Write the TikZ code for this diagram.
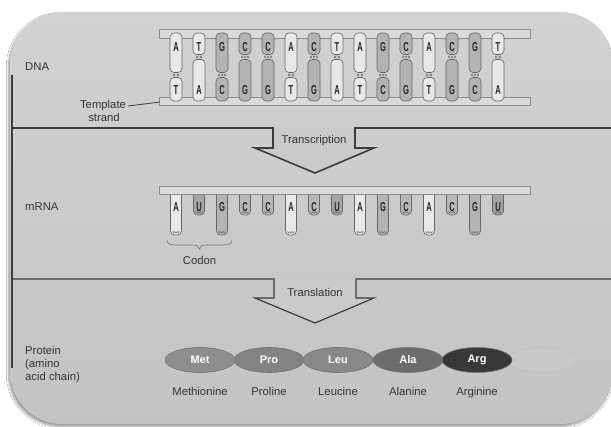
\documentclass[tikz,border=0pt]{standalone}
\usepackage{fontspec}
\setmainfont{Liberation Sans}
\usetikzlibrary{shapes.geometric,shadows.blur,calc}
\definecolor{panel}{HTML}{C3C3C3}
\definecolor{paneltop}{HTML}{D2D2D2}
\definecolor{edge}{HTML}{3C3C3C}
\definecolor{txt}{HTML}{333333}
\definecolor{band}{HTML}{DADADA}
\definecolor{light}{HTML}{E8E8E8}
\definecolor{mid}{HTML}{B3B3B3}
\definecolor{udark}{HTML}{A4A4A4}
\definecolor{cmid}{HTML}{B8B8B8}
\definecolor{met}{HTML}{8E8E8E}
\definecolor{pro}{HTML}{838383}
\definecolor{leu}{HTML}{888888}
\definecolor{ala}{HTML}{6C6C6C}
\definecolor{arg}{HTML}{383838}
\definecolor{faint}{HTML}{C8C8C8}
\definecolor{arrowfill}{HTML}{CACACA}
\begin{document}
\begin{tikzpicture}[x=1pt,y=-1pt,
  lbl/.style={font=\fontsize{11.3}{13}\selectfont, text=txt, inner sep=0pt},
  baseltr/.style={font=\fontsize{13}{13}\selectfont\bfseries, text=black!85, inner sep=0pt},
  pill/.style={draw=black!60, line width=0.6pt, rounded corners=4pt},
  bond/.style={draw=black!60, line width=0.4pt},
  strandband/.style={draw=black!45, line width=0.6pt, fill=band},
  divider/.style={draw=edge, line width=1.6pt, line join=miter},
  aa/.style={ellipse, draw=black!55, line width=0.6pt, minimum width=70pt, minimum height=25pt, inner sep=0pt, text=white, font=\fontsize{11}{12}\selectfont\bfseries}
]
\useasboundingbox (0,0) rectangle (611,427);
\fill[white] (0,0) rectangle (611,427);
% panel
\shade[top color=paneltop, bottom color=panel, rounded corners=52pt,
  blur shadow={shadow xshift=-1.5pt, shadow yshift=-2.5pt, shadow blur steps=8, shadow opacity=40}]
  (10,12) rectangle (613,424);
\draw[edge, line width=1.4pt] (12,75) -- (12,368);

% ---------- DNA ----------
\node[lbl, anchor=west] (dna) at (25,67) {DNA};
\draw[strandband] (159,29) rectangle (530,38);
\draw[strandband] (159,97) rectangle (530,105);
\foreach \t/\b/\s/\c/\n [count=\i from 0] in {A/T/75/light/2, T/A/57/light/2, G/C/75/mid/3, C/G/57/mid/3, C/G/57/mid/3, A/T/75/light/2, C/G/57/mid/3, T/A/57/light/2, A/T/75/light/2, G/C/75/mid/3, C/G/57/mid/3, A/T/75/light/2, C/G/57/mid/3, G/C/75/mid/3, T/A/57/light/2}{
  \pgfmathsetmacro\x{176+23*\i}
  \draw[pill, fill=\c] (\x-6,33) rectangle (\x+6,\s-2.5);
  \draw[pill, fill=\c] (\x-6,\s+2.5) rectangle (\x+6,101);
  \node[baseltr] (dt\i) at (\x,47) {\scalebox{0.58}[1]{\t}};
  \node[baseltr] (db\i) at (\x,90) {\scalebox{0.58}[1]{\b}};
  \ifnum\n=2
    \foreach \o in {-1.8,1.8}{\draw[bond] (\x+\o-1.2,\s-1.3) -- (\x+\o+1.2,\s+1.3) (\x+\o-1.2,\s+1.3) -- (\x+\o+1.2,\s-1.3);}
  \else
    \foreach \o in {-3,0,3}{\draw[bond] (\x+\o-1.1,\s-1.3) -- (\x+\o+1.1,\s+1.3) (\x+\o-1.1,\s+1.3) -- (\x+\o+1.1,\s-1.3);}
  \fi
}
\node[lbl] (tmpl) at (103,106) {Template};
\node[lbl] (strand) at (104,117) {strand};
\coordinate (strandpt) at (160,102);
\draw[edge, line width=0.8pt] ($(tmpl.east)+(2,0)$) -- (strandpt);

% ---------- divider 1 + transcription arrow ----------
\fill[arrowfill] (273,128) -- (273,148) -- (255,148) -- (315,173) -- (374,148) -- (355,148) -- (355,128) -- cycle;
\draw[divider] (12,128) -- (273,128) -- (273,148) -- (255,148) -- (315,173) -- (374,148) -- (355,148) -- (355,128) -- (613,128);
\node[lbl] (transcr) at (314,141) {Transcription};

% ---------- mRNA ----------
\node[lbl, anchor=west] (mrna) at (25,207) {mRNA};
\foreach \l/\h/\c [count=\i from 0] in {A/235/light, U/215/udark, G/235/mid, C/215/cmid, C/215/cmid, A/235/light, C/215/cmid, U/215/udark, A/235/light, G/235/mid, C/215/cmid, A/235/light, C/215/cmid, G/235/mid, U/215/udark}{
  \pgfmathsetmacro\x{176+23*\i}
  \draw[pill, fill=\c] (\x-5.5,189) rectangle (\x+5.5,\h);
  \draw[bond] (\x-3.5,\h-3.5) -- (\x-2.5,\h-1.8) -- (\x-1.2,\h-3.5) -- (\x,\h-1.8) -- (\x+1.2,\h-3.5) -- (\x+2.5,\h-1.8) -- (\x+3.5,\h-3.5);
  \node[baseltr] (mr\i) at (\x,207) {\scalebox{0.58}[1]{\l}};
}
\draw[strandband] (159,186) rectangle (530,194);
\draw[black!55, line width=0.6pt] (167,240) .. controls (167,244) and (170,245) .. (178,245) -- (192,245) .. controls (197,245) and (199,246) .. (199.5,249) .. controls (200,246) and (202,245) .. (207,245) -- (221,245) .. controls (229,245) and (232,244) .. (232,240);
\node[lbl] (codon) at (199.5,260) {Codon};

% ---------- divider 2 + translation arrow ----------
\fill[arrowfill] (274,279) -- (274,298) -- (255,298) -- (315,323) -- (374,298) -- (356,298) -- (356,279) -- cycle;
\draw[divider, line width=1.2pt] (12,279) -- (274,279) -- (274,298) -- (255,298) -- (315,323) -- (374,298) -- (356,298) -- (356,279) -- (613,279);
\node[lbl] (transl) at (315,292) {Translation};

% ---------- protein ----------
\node[lbl, align=left, anchor=west] (prot) at (25,365) {Protein\\(amino\\acid chain)};
\node[aa, draw=black!25, fill=faint] (aa6) at (543,360) {};
\foreach \nm/\ab/\col/\x [count=\i] in {Methionine/Met/met/200, Proline/Pro/pro/269, Leucine/Leu/leu/338, Alanine/Ala/ala/408, Arginine/Arg/arg/477}{
  \node[aa, fill=\col] (aa\i) at (\x,360) {\ab};
  \node[lbl, anchor=base] (nm\i) at (\x,396) {\nm};
}
\end{tikzpicture}
\end{document}
